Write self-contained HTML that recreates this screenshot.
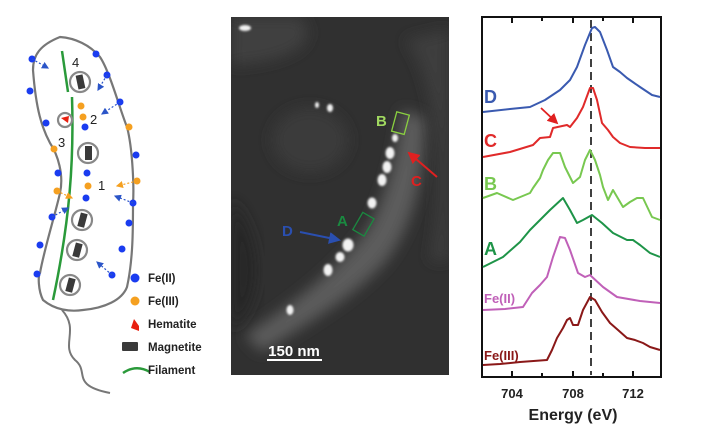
<!DOCTYPE html>
<html><head><meta charset="utf-8"><style>
html,body{margin:0;padding:0;background:#fff;}
svg{display:block;font-family:"Liberation Sans",sans-serif;}
</style></head><body>
<svg width="701" height="437" viewBox="0 0 701 437">
<defs>
<filter id="bl" x="-30%" y="-30%" width="160%" height="160%"><feGaussianBlur stdDeviation="7"/></filter>
<filter id="bl2"><feGaussianBlur stdDeviation="1"/></filter>
<marker id="ab" markerWidth="6" markerHeight="6" refX="5" refY="3" orient="auto"><path d="M0,0 L6,3 L0,6z" fill="#2b55c8"/></marker>
<marker id="ao" markerWidth="6" markerHeight="6" refX="5" refY="3" orient="auto"><path d="M0,0 L6,3 L0,6z" fill="#f5a020"/></marker>
<marker id="ar" markerWidth="6" markerHeight="6" refX="5" refY="3" orient="auto"><path d="M0,0 L6,3 L0,6z" fill="#e02020"/></marker>
<marker id="ad" markerWidth="6" markerHeight="6" refX="5" refY="3" orient="auto"><path d="M0,0 L6,3 L0,6z" fill="#2a4fb0"/></marker>
<clipPath id="cp"><rect x="231" y="17" width="218" height="358"/></clipPath>
</defs>

<!-- LEFT DIAGRAM -->
<path d="M62,310 C80,330 60,345 75,360 C90,372 70,385 110,393" fill="none" stroke="#777" stroke-width="2"/>
<path d="M60,37 C75,38 90,45 100,57 C110,72 120,110 127,127 C133,150 134,190 133,203 C133,230 133,260 127,287 C122,300 105,308 83,310 C70,312 55,310 43,300 C38,290 38,275 40,273 C44,250 55,215 60,193 C64,175 58,155 50,143 C42,128 36,110 33,70 C33,55 40,45 60,37Z" fill="none" stroke="#777" stroke-width="2.2"/>
<path d="M62,51 L68,92" stroke="#2a9a3a" stroke-width="2.5" fill="none"/>
<path d="M72,97 C74,160 70,220 53,300" stroke="#2a9a3a" stroke-width="2.5" fill="none"/>
<g stroke="#888" stroke-width="2.2" fill="#fff">
<circle cx="80" cy="82" r="10"/><circle cx="88" cy="153" r="10"/><circle cx="82" cy="220" r="10"/><circle cx="77" cy="250" r="10"/><circle cx="70" cy="285" r="10"/><circle cx="65" cy="120" r="7"/>
</g>
<g fill="#3a3a3a">
<rect x="77" y="75" width="7" height="14" transform="rotate(-12 80 82)"/>
<rect x="85" y="146" width="7" height="14"/>
<rect x="79" y="213" width="7" height="14" transform="rotate(15 82 220)"/>
<rect x="74" y="243" width="7" height="14" transform="rotate(15 77 250)"/>
<rect x="67" y="278" width="7" height="14" transform="rotate(15 70 285)"/>
</g>
<path d="M61,118 L69,116 L68,123z" fill="#e82010"/>
<g font-size="13" fill="#222"><text x="72" y="67">4</text><text x="90" y="124">2</text><text x="58" y="147">3</text><text x="98" y="190">1</text></g>
<g fill="#1a3cf0">
<circle cx="32" cy="59" r="3.5"/><circle cx="96" cy="54" r="3.5"/><circle cx="107" cy="75" r="3.5"/><circle cx="30" cy="91" r="3.5"/><circle cx="120" cy="102" r="3.5"/><circle cx="46" cy="123" r="3.5"/><circle cx="85" cy="127" r="3.5"/><circle cx="136" cy="155" r="3.5"/><circle cx="58" cy="173" r="3.5"/><circle cx="87" cy="173" r="3.5"/><circle cx="86" cy="198" r="3.5"/><circle cx="133" cy="203" r="3.5"/><circle cx="52" cy="217" r="3.5"/><circle cx="129" cy="223" r="3.5"/><circle cx="40" cy="245" r="3.5"/><circle cx="122" cy="249" r="3.5"/><circle cx="37" cy="274" r="3.5"/><circle cx="112" cy="275" r="3.5"/>
</g>
<g fill="#f5a020">
<circle cx="81" cy="106" r="3.5"/><circle cx="83" cy="117" r="3.5"/><circle cx="129" cy="127" r="3.5"/><circle cx="54" cy="149" r="3.5"/><circle cx="88" cy="186" r="3.5"/><circle cx="137" cy="181" r="3.5"/><circle cx="57" cy="191" r="3.5"/>
</g>
<g stroke-width="1.2" stroke-dasharray="2,2" fill="none">
<path d="M32,59 L48,68" stroke="#2b55c8" marker-end="url(#ab)"/>
<path d="M107,75 L98,90" stroke="#2b55c8" marker-end="url(#ab)"/>
<path d="M120,102 L102,114" stroke="#2b55c8" marker-end="url(#ab)"/>
<path d="M133,203 L115,196" stroke="#2b55c8" marker-end="url(#ab)"/>
<path d="M52,217 L68,208" stroke="#2b55c8" marker-end="url(#ab)"/>
<path d="M112,275 L97,262" stroke="#2b55c8" marker-end="url(#ab)"/>
<path d="M137,181 L117,186" stroke="#f5a020" marker-end="url(#ao)"/>
<path d="M57,191 L72,198" stroke="#f5a020" marker-end="url(#ao)"/>
</g>
<circle cx="135" cy="278" r="4.5" fill="#1a3cf0"/>
<circle cx="135" cy="301" r="4.5" fill="#f5a020"/>
<path d="M131,328 L134,319 L139,326 L139,331z" fill="#e82010"/>
<rect x="122" y="342" width="16" height="9" rx="1" fill="#3a3a3a"/>
<path d="M123,373 Q136,364 150,372" stroke="#2a9a3a" stroke-width="2.5" fill="none"/>
<g font-size="11.5" font-weight="bold" fill="#222">
<text x="148" y="282">Fe(II)</text><text x="148" y="305">Fe(III)</text><text x="148" y="328">Hematite</text><text x="148" y="351">Magnetite</text><text x="148" y="374">Filament</text>
</g>

<!-- MIDDLE IMAGE -->
<rect x="231" y="17" width="218" height="358" fill="#303030"/>
<g clip-path="url(#cp)">
<path d="M231,17 L300,17 C320,40 300,60 231,65Z" fill="#404040" filter="url(#bl)"/>
<ellipse cx="310" cy="140" rx="38" ry="32" fill="#3a3a3a" filter="url(#bl)"/>
<path d="M245,335 C300,300 345,262 370,225 C388,190 398,150 402,110 L425,118 C425,170 415,225 385,262 C355,296 310,322 262,352Z" fill="#5c5c5c" filter="url(#bl)"/>
<path d="M231,200 C260,230 270,300 231,330Z" fill="#262626" filter="url(#bl)"/>
<path d="M405,40 C440,80 445,200 430,260 L449,260 L449,30Z" fill="#3e3e3e" filter="url(#bl)"/>
<g fill="#f2f2f2" filter="url(#bl2)">
<ellipse cx="395" cy="138" rx="3" ry="4"/><ellipse cx="390" cy="153" rx="4.5" ry="6"/><ellipse cx="387" cy="167" rx="4.5" ry="6"/><ellipse cx="382" cy="180" rx="4.5" ry="6"/><ellipse cx="372" cy="203" rx="4.5" ry="5.5"/><ellipse cx="348" cy="245" rx="5.5" ry="6.5"/><ellipse cx="340" cy="257" rx="4.5" ry="5"/><ellipse cx="328" cy="270" rx="4.5" ry="6"/><ellipse cx="290" cy="310" rx="3.5" ry="5"/><ellipse cx="330" cy="108" rx="3" ry="4"/><ellipse cx="317" cy="105" rx="2" ry="3"/><ellipse cx="245" cy="28" rx="6" ry="3"/>
</g>
</g>
<rect x="394" y="113" width="13" height="20" fill="none" stroke="#8ad040" stroke-width="1.3" transform="rotate(15 400 123)"/>
<rect x="357" y="214" width="13" height="20" fill="none" stroke="#1a8a40" stroke-width="1.3" transform="rotate(30 363 224)"/>
<g font-size="15" font-weight="bold">
<text x="376" y="126" fill="#a0d860">B</text><text x="337" y="226" fill="#1a8a40">A</text><text x="411" y="186" fill="#e02020">C</text><text x="282" y="236" fill="#2a4fb0">D</text>
</g>
<path d="M437,177 L409,153" stroke="#e02020" stroke-width="2" marker-end="url(#ar)"/>
<path d="M300,232 L339,240" stroke="#2a4fb0" stroke-width="2" marker-end="url(#ad)"/>
<line x1="267" y1="360" x2="322" y2="360" stroke="#fff" stroke-width="2"/>
<text x="294" y="356" font-size="15" font-weight="bold" fill="#fff" text-anchor="middle">150 nm</text>

<!-- RIGHT CHART -->
<rect x="482" y="17" width="179" height="360" fill="#fff" stroke="#111" stroke-width="2"/>
<g stroke="#111" stroke-width="2">
<line x1="512" y1="17" x2="512" y2="23"/><line x1="542" y1="17" x2="542" y2="21"/><line x1="573" y1="17" x2="573" y2="23"/><line x1="603" y1="17" x2="603" y2="21"/><line x1="633" y1="17" x2="633" y2="23"/>
<line x1="512" y1="377" x2="512" y2="371"/><line x1="542" y1="377" x2="542" y2="373"/><line x1="573" y1="377" x2="573" y2="371"/><line x1="603" y1="377" x2="603" y2="373"/><line x1="633" y1="377" x2="633" y2="371"/>
</g>
<line x1="591" y1="20" x2="591" y2="375" stroke="#111" stroke-width="1.6" stroke-dasharray="8,5"/>
<g fill="none" stroke-width="2" stroke-linejoin="round">
<polyline stroke="#3a5ab0" points="483,112 510,109 530,107 545,100 560,90 570,80 577,67 585,45 592,28 595,27 600,32 607,50 613,67 620,72 627,78 640,87 652,95 660,97"/>
<polyline stroke="#e02a2a" points="483,157 510,152 533,145 540,138 550,137 553,128 567,125 570,127 577,118 583,107 590,88 593,88 597,100 602,123 608,130 613,137 620,143 630,147 645,148 660,148"/>
<polyline stroke="#78c850" points="483,198 497,193 513,200 530,193 533,188 540,178 543,170 548,160 553,153 560,153 565,167 573,183 580,177 585,160 590,150 595,160 600,175 603,187 608,200 613,190 623,207 630,202 637,198 643,198 652,217 660,220"/>
<polyline stroke="#1e9448" points="483,267 503,257 520,242 530,230 537,223 550,210 563,198 570,210 577,223 583,220 592,215 602,223 613,233 627,240 633,240 640,245 650,253 660,257"/>
<polyline stroke="#c060b8" points="483,310 505,309 523,307 532,293 540,285 547,277 553,257 560,237 565,238 570,250 578,273 585,277 590,275 603,287 617,297 640,301 660,303"/>
<polyline stroke="#8a1818" points="483,365 500,364 520,362 547,360 552,350 557,338 563,328 567,320 570,318 573,325 578,325 583,310 590,297 595,300 602,312 610,323 618,330 627,338 635,340 643,343 650,347 660,350"/>
</g>
<path d="M541,108 L557,123" stroke="#e02020" stroke-width="1.8" marker-end="url(#ar)"/>
<g font-weight="bold">
<text x="484" y="103" font-size="18" fill="#3a5ab0">D</text>
<text x="484" y="147" font-size="18" fill="#e02a2a">C</text>
<text x="484" y="190" font-size="18" fill="#78c850">B</text>
<text x="484" y="255" font-size="18" fill="#1e9448">A</text>
<text x="484" y="303" font-size="13" fill="#c060b8">Fe(II)</text>
<text x="484" y="360" font-size="13" fill="#8a1818">Fe(III)</text>
<g font-size="13" fill="#222" text-anchor="middle"><text x="512" y="398">704</text><text x="573" y="398">708</text><text x="633" y="398">712</text></g>
<text x="573" y="420" font-size="16" fill="#222" text-anchor="middle">Energy (eV)</text>
</g>
</svg>
</body></html>
